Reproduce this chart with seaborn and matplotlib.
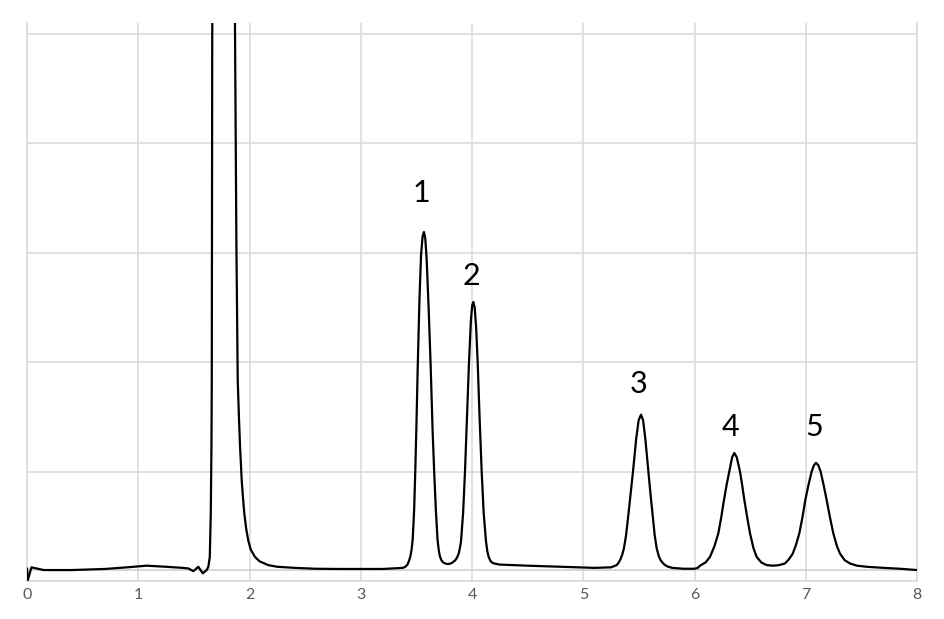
import numpy as np
import pandas as pd
import matplotlib
matplotlib.use("Agg")
import matplotlib.pyplot as plt
import seaborn as sns

# chromatogram trace (time, signal)
time = [
    0.000, 0.008, 0.040, 0.150, 0.400, 0.700, 0.900, 1.076, 1.250, 1.400,
    1.450, 1.495, 1.540, 1.580, 1.615, 1.630, 1.643, 1.652, 1.658, 1.661,
    1.665, 1.700, 1.770, 1.840, 1.870, 1.882, 1.894, 1.905, 1.915, 1.930,
    1.940, 1.953, 1.970, 1.989, 2.010, 2.049, 2.090, 2.169, 2.250, 2.409,
    2.589, 2.800, 3.000, 3.200, 3.380,
    # peak 1
    3.400, 3.420, 3.432, 3.445, 3.456, 3.467, 3.480, 3.490, 3.500, 3.512,
    3.527, 3.542, 3.556, 3.568, 3.580, 3.592, 3.610, 3.629, 3.645, 3.660,
    3.675, 3.690, 3.700, 3.710, 3.725, 3.740, 3.760, 3.780, 3.800, 3.820,
    # peak 2
    3.850, 3.866, 3.880, 3.891, 3.901, 3.920, 3.937, 3.955, 3.973, 3.990,
    4.002, 4.012, 4.024, 4.037, 4.051, 4.068, 4.087, 4.105, 4.126, 4.138,
    4.150, 4.163, 4.177, 4.200, 4.250, 4.500, 4.800, 5.100, 5.250,
    # peak 3
    5.300, 5.320, 5.335, 5.350, 5.366, 5.385, 5.405, 5.426, 5.447, 5.476,
    5.498, 5.519, 5.538, 5.558, 5.585, 5.604, 5.624, 5.642, 5.660, 5.678,
    5.695, 5.715, 5.735, 5.765, 5.800, 5.900, 6.000,
    # peak 4
    6.030, 6.049, 6.075, 6.100, 6.139, 6.180, 6.214, 6.240, 6.265, 6.289,
    6.313, 6.338, 6.358, 6.380, 6.409, 6.428, 6.448, 6.474, 6.499, 6.530,
    6.559, 6.600, 6.649, 6.708,
    # peak 5
    6.760, 6.813, 6.850, 6.883, 6.912, 6.942, 6.970, 6.996, 7.025, 7.053,
    7.075, 7.092, 7.112, 7.134, 7.160, 7.188, 7.218, 7.248, 7.280, 7.308,
    7.350, 7.398, 7.460, 7.548, 7.700, 7.847, 8.000,
]
signal = [
    0.015, -0.090, 0.025, 0.000, 0.000, 0.010, 0.025, 0.040, 0.030, 0.020,
    0.015, -0.010, 0.030, -0.030, 0.000, 0.030, 0.120, 0.520, 1.130, 1.740,
    4.900, 9.000, 12.000, 9.000, 4.900, 3.000, 1.740, 1.400, 1.130, 0.820,
    0.680, 0.520, 0.380, 0.270, 0.190, 0.120, 0.080, 0.045, 0.030, 0.020,
    0.012, 0.010, 0.010, 0.010, 0.020,
    # peak 1
    0.030, 0.050, 0.080, 0.120, 0.180, 0.280, 0.550, 0.900, 1.300, 1.850,
    2.450, 2.880, 3.050, 3.090, 3.030, 2.850, 2.400, 1.850, 1.300, 0.900,
    0.550, 0.280, 0.190, 0.130, 0.090, 0.070, 0.060, 0.055, 0.058, 0.065,
    # peak 2
    0.090, 0.115, 0.150, 0.200, 0.260, 0.520, 0.900, 1.400, 1.900, 2.280,
    2.420, 2.450, 2.400, 2.220, 1.900, 1.400, 0.900, 0.520, 0.260, 0.170,
    0.120, 0.090, 0.070, 0.060, 0.050, 0.040, 0.030, 0.020, 0.025,
    # peak 3
    0.045, 0.070, 0.100, 0.140, 0.200, 0.320, 0.500, 0.700, 0.900, 1.200,
    1.370, 1.420, 1.370, 1.200, 0.900, 0.700, 0.500, 0.320, 0.200, 0.130,
    0.090, 0.065, 0.045, 0.030, 0.020, 0.012, 0.012,
    # peak 4
    0.020, 0.040, 0.055, 0.070, 0.120, 0.220, 0.335, 0.480, 0.640, 0.780,
    0.900, 1.030, 1.070, 1.030, 0.900, 0.780, 0.640, 0.480, 0.335, 0.200,
    0.120, 0.070, 0.045, 0.040,
    # peak 5
    0.045, 0.060, 0.100, 0.150, 0.230, 0.335, 0.480, 0.640, 0.780, 0.900,
    0.960, 0.980, 0.960, 0.900, 0.780, 0.640, 0.480, 0.335, 0.220, 0.150,
    0.090, 0.060, 0.040, 0.030, 0.020, 0.012, 0.000,
]

peak_labels = ["1", "2", "3", "4", "5"]
label_x = [3.542, 3.998, 5.493, 6.324, 7.080]
label_y = [3.45, 2.69, 1.70, 1.305, 1.31]

x_ticks = [0, 1, 2, 3, 4, 5, 6, 7, 8]
y_grid = [-0.1, 0.9, 1.9, 2.9, 3.9, 4.9]

df = pd.DataFrame({"time": time, "signal": signal})

sns.set_theme(style="white")
plt.rcParams["font.family"] = ["Lato", "DejaVu Sans"]

grid_col = "#d9d9d9"

fig = plt.figure(figsize=(9.44, 6.19), dpi=100)
ax = fig.add_axes([27 / 944, 1 - 581 / 619, 890 / 944, 558 / 619])

ax.axhline(0, color="#cccccc", lw=1.1, zorder=1)
sns.lineplot(data=df, x="time", y="signal", sort=False, estimator=None,
             color="black", lw=1.6, ax=ax, zorder=3)

for lab, lx, ly in zip(peak_labels, label_x, label_y):
    ax.text(lx, ly, lab, fontsize=22, ha="center", va="center", color="black")

ax.set_xlim(0, 8)
ax.set_ylim(-0.1, 5.0)
ax.set_xticks(x_ticks)
ax.set_xticklabels([str(t) for t in x_ticks])
ax.set_yticks(y_grid)
ax.set_yticklabels([])
ax.set_xlabel("")
ax.set_ylabel("")
ax.tick_params(axis="x", length=0, pad=5, labelsize=11.5, labelcolor="#595959")
ax.tick_params(axis="y", length=0)

ax.set_axisbelow(True)
ax.grid(True, color=grid_col, lw=1.1)
for side in ["left", "right", "bottom"]:
    ax.spines[side].set_color(grid_col)
    ax.spines[side].set_linewidth(1.1)
ax.spines["top"].set_visible(False)

fig.savefig("out.png", dpi=100)
